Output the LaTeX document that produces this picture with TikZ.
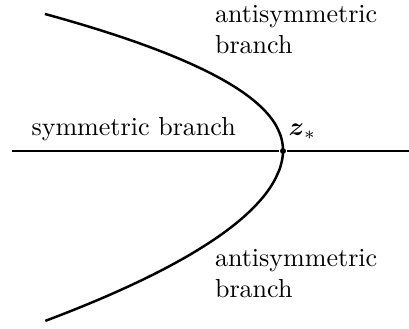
\documentclass[tikz,border=0pt]{standalone}
\usepackage{amsmath,amssymb}
\usepackage{tikz}
\usetikzlibrary{positioning}

\begin{document}
\begin{tikzpicture}[
  x=0.384pt, y=-0.384pt,
  lab/.style={inner sep=0pt, align=left, anchor=base west},
  branchline/.style={line width=0.95pt},
  axisline/.style={line width=0.7pt}
]
\useasboundingbox (0,0) rectangle (409,329);
\coordinate (axisL) at (12,151);
\coordinate (axisR) at (409,151);
\node[circle, fill, inner sep=0pt, minimum size=2.3pt] (zstar) at (283,151) {};

\draw[axisline] (axisL) -- (zstar) -- (axisR);
% upper and lower branch through z_*
\draw[branchline, samples=60, smooth, variable=\t]
  plot[domain=1:0] ({283-238*pow(\t,2.1)}, {151-137*\t})
  -- plot[domain=0:1] ({283-238*pow(\t,1.9)}, {151+170*\t});

\node[lab] (symlab) at (31,136) {symmetric branch};
\node[lab] (zlab) at (288,136) {$\boldsymbol{z}_*$};
\node[lab] (antiup) at (214.5,54) {antisymmetric\\branch};
\node[lab] (antidown) at (214.5,298) {antisymmetric\\branch};
\end{tikzpicture}
\end{document}
